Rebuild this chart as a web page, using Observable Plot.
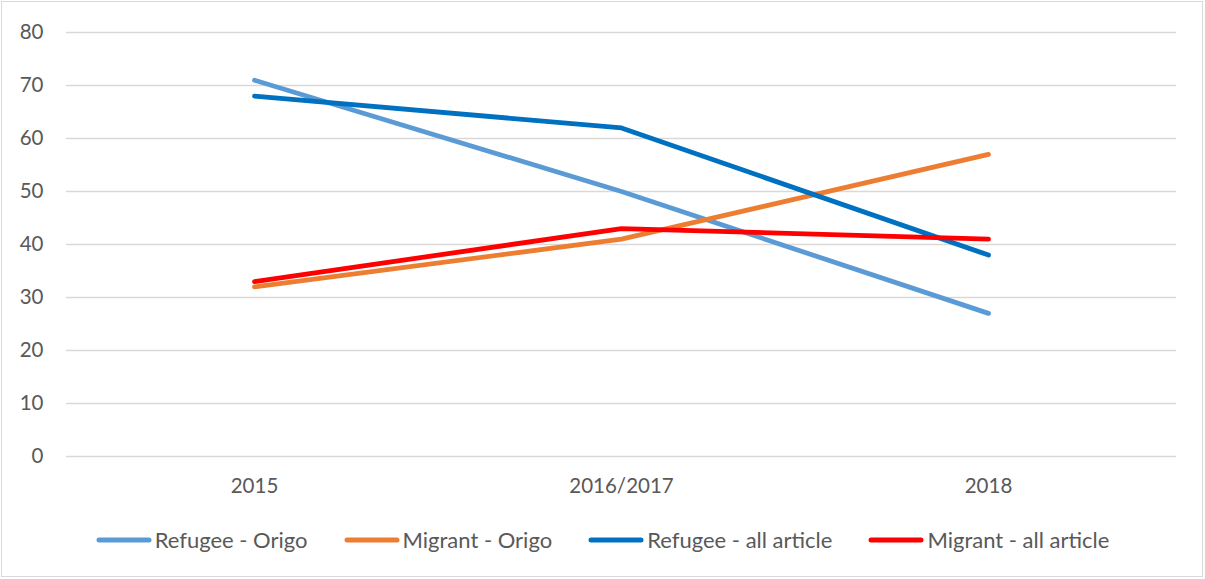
<!DOCTYPE html>
<html>
<head>
<meta charset="utf-8">
<script src="https://cdn.jsdelivr.net/npm/d3@7"></script>
<script src="https://cdn.jsdelivr.net/npm/@observablehq/plot@0.6"></script>
<style>
  html, body { margin: 0; padding: 0; background: #fff; }
  #frame { position: absolute; left: 1px; top: 1px; width: 1202px; height: 576px; border: 1.5px solid #d9d9d9; box-sizing: border-box; }
  #chart { position: absolute; left: 0; top: 0; }
  #legend { position: absolute; left: 0; top: 526px; width: 1205px; display: flex; justify-content: center; font-family: Lato, "Open Sans", sans-serif; font-size: 22px; color: #595959; }
  .item { display: flex; align-items: center; margin: 0 18px; }
  .item svg { margin-right: 3px; }
</style>
</head>
<body>
<div id="frame"></div>
<div id="chart"></div>
<div id="legend"></div>
<script>
const categories = ["2015", "2016/2017", "2018"];
const seriesNames = ["Refugee - Origo", "Migrant - Origo", "Refugee - all article", "Migrant - all article"];
const refugeeOrigo = [71, 50, 27];
const migrantOrigo = [32, 41, 57];
const refugeeAll = [68, 62, 38];
const migrantAll = [33, 43, 41];
const seriesColors = ["#5B9BD5", "#ED7D31", "#0070C0", "#FF0000"];
const yTicks = [0, 10, 20, 30, 40, 50, 60, 70, 80];

const allSeries = [refugeeOrigo, migrantOrigo, refugeeAll, migrantAll];
const data = [];
allSeries.forEach((vals, i) => vals.forEach((v, j) => data.push({series: seriesNames[i], cat: categories[j], value: v})));

const chart = Plot.plot({
  width: 1205,
  height: 510,
  marginLeft: 66,
  marginRight: 29,
  marginTop: 32,
  marginBottom: 54,
  style: { fontFamily: "Lato, 'Open Sans', sans-serif", fontSize: "20.5px", color: "#595959", background: "transparent" },
  x: { type: "point", domain: categories, padding: 0.5, insetLeft: 4.5, insetRight: 4.5, label: null },
  y: { domain: [0, 80], label: null },
  color: { domain: seriesNames, range: seriesColors },
  marks: [
    Plot.ruleY(yTicks, { stroke: "#d9d9d9", strokeWidth: 1.5 }),
    Plot.axisY({ ticks: yTicks, tickSize: 0, tickPadding: 23, fontSize: 20.5, label: null }),
    Plot.axisX({ tickSize: 0, tickPadding: 22, fontSize: 20.5, label: null }),
    Plot.line(data, { x: "cat", y: "value", z: "series", stroke: "series", strokeWidth: 4.8, strokeLinecap: "round", strokeLinejoin: "round" })
  ]
});
document.getElementById("chart").appendChild(chart);

const legend = document.getElementById("legend");
seriesNames.forEach((name, i) => {
  const item = document.createElement("div");
  item.className = "item";
  item.innerHTML = `<svg width="56" height="10"><line x1="3" y1="5" x2="53" y2="5" stroke="${seriesColors[i]}" stroke-width="5" stroke-linecap="round"/></svg><span>${name}</span>`;
  legend.appendChild(item);
});
</script>
</body>
</html>
